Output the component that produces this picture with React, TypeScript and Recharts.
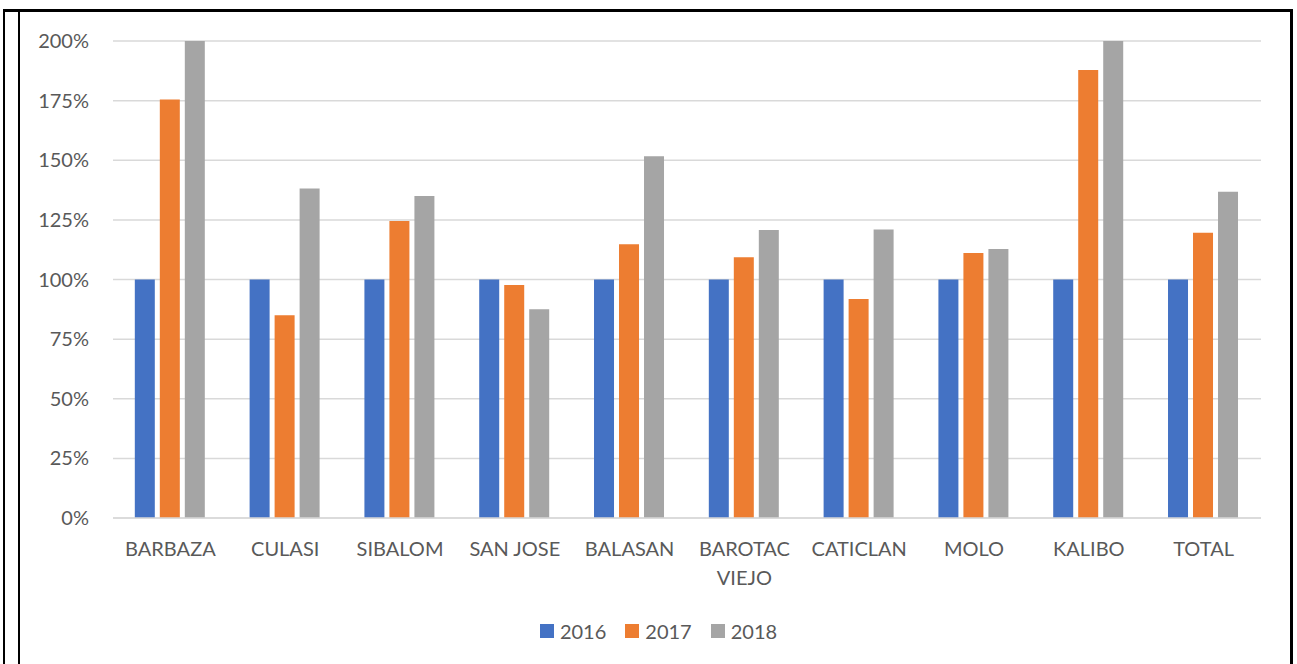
import React from "react";
import { BarChart, Bar, XAxis, YAxis, CartesianGrid, Legend } from "recharts";

const categories = ["BARBAZA", "CULASI", "SIBALOM", "SAN JOSE", "BALASAN", "BAROTAC VIEJO", "CATICLAN", "MOLO", "KALIBO", "TOTAL"];
const series2016 = [100, 100, 100, 100, 100, 100, 100, 100, 100, 100];
const series2017 = [175.5, 85, 124.5, 97.7, 114.8, 109.3, 91.8, 111.1, 187.8, 119.6];
const series2018 = [200, 138.2, 135, 87.5, 151.7, 120.8, 121, 112.8, 200, 136.8];
const yTicks = [0, 25, 50, 75, 100, 125, 150, 175, 200];
const seriesNames = ["2016", "2017", "2018"];
const colors = ["#4472C4", "#ED7D31", "#A5A5A5"];

const data = categories.map((c, i) => ({
  name: c,
  "2016": series2016[i],
  "2017": series2017[i],
  "2018": series2018[i],
}));

const FONT = "Lato, sans-serif";
const TEXT = "#595959";
const FS = 20;

const XTick = (props: any) => {
  const { x, y, payload } = props;
  const label: string = payload.value;
  const lines = label.length > 10 ? label.split(" ") : [label];
  return (
    <g>
      {lines.map((l, i) => (
        <text key={i} x={x} y={y} dy={30 + i * 29} textAnchor="middle" fill={TEXT} fontSize={FS} fontFamily={FONT}>
          {l}
        </text>
      ))}
    </g>
  );
};

const LegendContent = (props: any) => {
  const payload = props.payload || [];
  return (
    <div style={{ display: "flex", justifyContent: "center", alignItems: "center", height: 24, marginLeft: 20 }}>
      {payload.map((p: any, i: number) => (
        <div key={i} style={{ display: "flex", alignItems: "center", marginRight: i < payload.length - 1 ? 19 : 0 }}>
          <div style={{ width: 14, height: 14, background: p.color, marginRight: 6 }} />
          <span style={{ color: TEXT, fontSize: FS, fontFamily: FONT, lineHeight: "24px" }}>{p.value}</span>
        </div>
      ))}
    </div>
  );
};

const line = (s: React.CSSProperties): React.CSSProperties => ({ position: "absolute", background: "#000", ...s });

export default function App() {
  return (
    <div style={{ position: "absolute", left: 0, top: 0, width: 1297, height: 664, background: "#fff" }}>
      <div style={line({ left: 3, top: 9, width: 1289, height: 3 })} />
      <div style={line({ left: 3, top: 9, width: 2, height: 655 })} />
      <div style={line({ left: 18, top: 12, width: 2, height: 652 })} />
      <div style={line({ left: 1290, top: 9, width: 3, height: 655 })} />
      <div style={{ position: "absolute", left: 0, top: 0 }}>
        <BarChart
          width={1297}
          height={664}
          data={data}
          margin={{ top: 41, right: 36, left: 0, bottom: 21 }}
          barCategoryGap="19%"
          barGap={5}
        >
          <CartesianGrid vertical={false} stroke="#d9d9d9" strokeWidth={1.5} />
          <XAxis
            dataKey="name"
            tickLine={false}
            axisLine={{ stroke: "#d9d9d9", strokeWidth: 1.5 }}
            tick={<XTick />}
            interval={0}
            height={101}
          />
          <YAxis
            width={113}
            domain={[0, 200]}
            ticks={yTicks}
            allowDataOverflow
            tickLine={false}
            axisLine={false}
            tickMargin={18}
            tickFormatter={(v: number) => `${v}%`}
            tick={{ fill: TEXT, fontSize: FS, fontFamily: FONT }}
          />
          <Legend
            verticalAlign="bottom"
            align="center"
            height={24}
            wrapperStyle={{ left: 0, width: 1297 }}
            content={<LegendContent />}
          />
          {seriesNames.map((s, i) => (
            <Bar key={s} dataKey={s} fill={colors[i]} isAnimationActive={false} />
          ))}
        </BarChart>
      </div>
    </div>
  );
}
